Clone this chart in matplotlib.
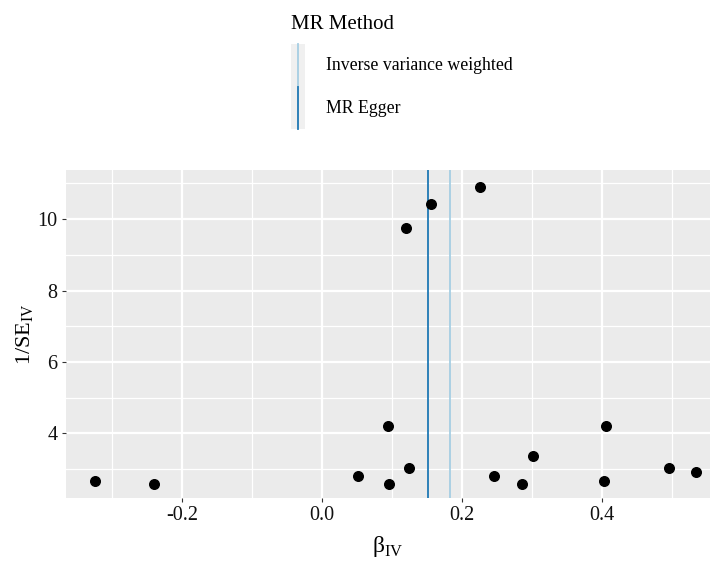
import matplotlib
matplotlib.use("Agg")
import matplotlib.pyplot as plt
from matplotlib.legend_handler import HandlerBase
from matplotlib.lines import Line2D
from matplotlib.patches import Rectangle

plt.rcParams["font.family"] = ["Liberation Serif", "DejaVu Serif"]
plt.rcParams["mathtext.fontset"] = "custom"
plt.rcParams["mathtext.rm"] = "Liberation Serif"

# Single-SNP estimates (beta_IV) and precision (1/SE_IV)
beta_iv = [-0.324, -0.240, 0.051, 0.094, 0.096, 0.124, 0.120, 0.156, 0.225,
           0.246, 0.285, 0.301, 0.406, 0.403, 0.495, 0.534]
inv_se = [2.66, 2.57, 2.82, 4.21, 2.57, 3.02, 9.75, 10.43, 10.89,
          2.82, 2.57, 3.38, 4.21, 2.66, 3.02, 2.91]

methods = ["Inverse variance weighted", "MR Egger"]
method_est = [0.183, 0.1505]
method_col = ["#a6cee3", "#1f78b4"]

x_ticks = [-0.2, 0.0, 0.2, 0.4]
x_minor = [-0.3, -0.1, 0.1, 0.3, 0.5]
y_ticks = [4, 6, 8, 10]
y_minor = [3, 5, 7, 9, 11]


class VKeyHandler(HandlerBase):
    """ggplot-style legend key: grey box with a vertical line."""
    def create_artists(self, legend, orig_handle, xdescent, ydescent,
                       width, height, fontsize, trans):
        bg = Rectangle((-xdescent, -ydescent), width, height,
                       facecolor="#f0f0f0", edgecolor="none", transform=trans)
        x = width / 2 - xdescent
        ln = Line2D([x, x], [-ydescent, height - ydescent],
                    color=orig_handle.get_color(),
                    linewidth=orig_handle.get_linewidth(), transform=trans)
        return [bg, ln]


fig = plt.figure(figsize=(7.12, 5.68), dpi=100)
ax = fig.add_axes([0.0927, 0.1232, 0.9045, 0.5775])
ax.set_facecolor("#ebebeb")

ax.set_xlim(-0.366, 0.554)
ax.set_ylim(2.19, 11.375)
ax.set_xticks(x_ticks)
ax.set_xticks(x_minor, minor=True)
ax.set_yticks(y_ticks)
ax.set_yticks(y_minor, minor=True)
ax.set_xticklabels([f"{v:.1f}" for v in x_ticks])
ax.grid(True, which="major", color="white", linewidth=1.6)
ax.grid(True, which="minor", color="white", linewidth=0.9)
ax.set_axisbelow(True)
for s in ax.spines.values():
    s.set_visible(False)
ax.tick_params(which="major", length=3, width=0.8, color="#333333",
               labelsize=14.5, labelcolor="#111111", pad=3)
ax.tick_params(which="minor", length=0)

ax.scatter(beta_iv, inv_se, s=48, color="black", zorder=3)

handles = []
for m, est, col in zip(methods, method_est, method_col):
    ax.axvline(est, color=col, linewidth=1.3, zorder=2)
    handles.append(Line2D([], [], color=col, linewidth=1.3, label=m))

ax.set_xlabel(r"β$_{\mathrm{IV}}$", fontsize=17, labelpad=6)
ax.set_ylabel(r"1/SE$_{\mathrm{IV}}$", fontsize=16, labelpad=1)

leg = fig.legend(handles=handles, title="MR Method", loc="upper left",
                 bbox_to_anchor=(0.409, 0.973), frameon=False, fontsize=12.8,
                 title_fontsize=15, handler_map={Line2D: VKeyHandler()},
                 handlelength=0.8, handleheight=3.3, labelspacing=0.0,
                 handletextpad=1.15, alignment="left", borderaxespad=0,
                 borderpad=0)
leg._legend_box.sep = 7

fig.savefig("out.png", dpi=100)
